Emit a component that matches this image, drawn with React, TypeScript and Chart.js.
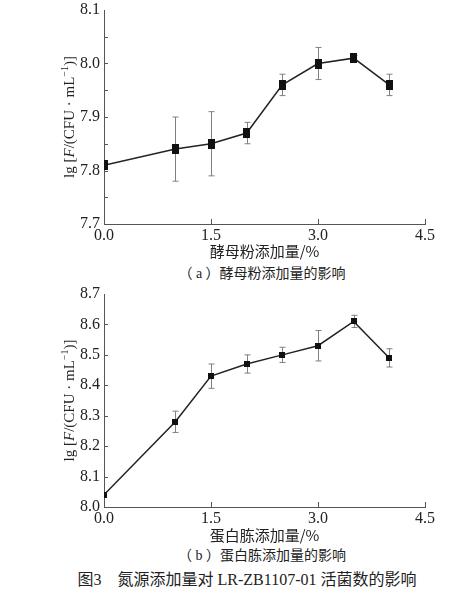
import { useEffect, useRef } from "react"
import { Chart, registerables } from "chart.js"

Chart.register(...registerables)

// amount added (%)
const doses = [0, 1, 1.5, 2, 2.5, 3, 3.5, 4]

// (a) yeast powder
const yeastCounts = [7.81, 7.84, 7.85, 7.87, 7.96, 8.0, 8.01, 7.96]
const yeastErrors = [0, 0.06, 0.06, 0.02, 0.02, 0.03, 0.005, 0.02]

// (b) peptone
const peptoneCounts = [8.04, 8.28, 8.43, 8.47, 8.5, 8.53, 8.61, 8.49]
const peptoneErrors = [0, 0.035, 0.04, 0.03, 0.025, 0.05, 0.02, 0.03]

const xTickValues = [0, 1.5, 3.0, 4.5]

const SERIF = "'Liberation Serif', 'Times New Roman', serif"
const CJK = "'Noto Sans CJK SC', 'Noto Sans CJK JP', sans-serif"
const TEXT = "#222"
const AXIS = "#555"
const PAD_TOP = 16

interface PanelProps {
  top: number
  height: number
  axisHeight: number
  ys: number[]
  errs: number[]
  yMin: number
  yMax: number
  yMinorStep: number
  xTitle: string
  markerW: number
  markerH: number
}

function makeMarker(w: number, h: number) {
  const c = document.createElement("canvas")
  c.width = w
  c.height = h
  const g = c.getContext("2d")
  if (g) {
    g.fillStyle = "#111"
    g.fillRect(0, 0, w, h)
  }
  return c
}

function Panel({ top, height, axisHeight, ys, errs, yMin, yMax, yMinorStep, xTitle, markerW, markerH }: PanelProps) {
  const chartRef = useRef<HTMLCanvasElement>(null)
  const chartInstance = useRef<Chart | null>(null)

  useEffect(() => {
    if (!chartRef.current) return
    if (chartInstance.current) chartInstance.current.destroy()
    const ctx = chartRef.current.getContext("2d")
    if (!ctx) return

    // grey error bars behind the markers
    const errorBars = {
      id: "errorBars",
      beforeDatasetsDraw(chart: Chart) {
        const c = chart.ctx
        const xs = chart.scales.x
        const yS = chart.scales.y
        c.save()
        c.strokeStyle = "#808080"
        c.lineWidth = 1
        doses.forEach((d, i) => {
          const e = errs[i]
          if (!e) return
          const px = Math.round(xs.getPixelForValue(d)) + 0.5
          const y1 = yS.getPixelForValue(ys[i] + e)
          const y2 = yS.getPixelForValue(ys[i] - e)
          c.beginPath()
          c.moveTo(px, y1)
          c.lineTo(px, y2)
          c.moveTo(px - 3, y1)
          c.lineTo(px + 3, y1)
          c.moveTo(px - 3, y2)
          c.lineTo(px + 3, y2)
          c.stroke()
        })
        c.restore()
      },
    }

    // inward tick marks + rotated y title with italic F and superscript
    const axisDecor = {
      id: "axisDecor",
      afterDraw(chart: Chart) {
        const c = chart.ctx
        const area = chart.chartArea
        const xs = chart.scales.x
        const yS = chart.scales.y
        c.save()
        c.strokeStyle = AXIS
        c.lineWidth = 1
        c.beginPath()
        const n = Math.round((yMax - yMin) / yMinorStep)
        for (let i = 1; i < n; i++) {
          const py = Math.round(yS.getPixelForValue(yMin + i * yMinorStep)) + 0.5
          c.moveTo(area.left, py)
          c.lineTo(area.left + 4, py)
        }
        xTickValues.slice(1).forEach((v) => {
          const px = Math.round(xs.getPixelForValue(v)) + 0.5
          c.moveTo(px, area.bottom)
          c.lineTo(px, area.bottom - 5)
        })
        c.stroke()

        const base = `15px ${SERIF}`
        const segs = [
          { t: "lg [", f: base, dy: 0 },
          { t: "F", f: `italic 15px ${SERIF}`, dy: 0 },
          { t: "/(CFU · mL", f: base, dy: 0 },
          { t: "−1", f: `10px ${SERIF}`, dy: -5 },
          { t: ")]", f: base, dy: 0 },
        ]
        let total = 0
        const widths = segs.map((s) => {
          c.font = s.f
          const w = c.measureText(s.t).width
          total += w
          return w
        })
        c.translate(70, (area.top + area.bottom) / 2)
        c.rotate(-Math.PI / 2)
        c.fillStyle = TEXT
        c.textBaseline = "middle"
        let x = -total / 2
        segs.forEach((s, i) => {
          c.font = s.f
          c.fillText(s.t, x, s.dy)
          x += widths[i]
        })
        c.restore()
      },
    }

    // clip the marker sitting on the y axis, as in the original
    const clipLeft = {
      id: "clipLeft",
      beforeDatasetsDraw(chart: Chart) {
        const a = chart.chartArea
        chart.ctx.save()
        chart.ctx.beginPath()
        chart.ctx.rect(a.left, 0, chart.width - a.left, chart.height)
        chart.ctx.clip()
      },
      afterDatasetsDraw(chart: Chart) {
        chart.ctx.restore()
      },
    }

    const chart = new Chart(ctx, {
      type: "line",
      data: {
        datasets: [
          {
            data: doses.map((d, i) => ({ x: d, y: ys[i] })),
            borderColor: "#222",
            borderWidth: 1.5,
            tension: 0,
            pointStyle: makeMarker(markerW, markerH),
            pointRadius: 5,
            clip: false,
          },
        ],
      },
      options: {
        animation: false,
        responsive: false,
        maintainAspectRatio: false,
        layout: { padding: { left: 0, top: PAD_TOP, right: 39, bottom: 0 } },
        plugins: { legend: { display: false }, tooltip: { enabled: false } },
        scales: {
          x: {
            type: "linear",
            min: 0,
            max: 4.5,
            afterBuildTicks: (scale) => {
              scale.ticks = xTickValues.map((v) => ({ value: v }))
            },
            afterFit: (scale) => {
              scale.height = axisHeight
            },
            grid: { display: false, tickLength: 0 },
            border: { display: true, color: AXIS, width: 1 },
            ticks: {
              padding: 2,
              color: TEXT,
              font: { family: SERIF, size: 16 },
              callback: (v) => Number(v).toFixed(1),
            },
            title: {
              display: true,
              text: xTitle,
              color: TEXT,
              padding: { top: 0, bottom: 2 },
              font: { family: CJK, size: 15 },
            },
          },
          y: {
            type: "linear",
            min: yMin,
            max: yMax,
            afterFit: (scale) => {
              scale.width = 104
            },
            grid: { display: false, tickLength: 0 },
            border: { display: true, color: AXIS, width: 1 },
            ticks: {
              stepSize: 0.1,
              padding: 4,
              color: TEXT,
              font: { family: SERIF, size: 16 },
              callback: (v) => Number(v).toFixed(1),
            },
          },
        },
      },
      plugins: [clipLeft, errorBars, axisDecor],
    })
    chartInstance.current = chart

    // redraw once the fonts are surely in
    if (document.fonts) {
      Promise.all([
        document.fonts.load(`16px "Liberation Serif"`),
        document.fonts.load(`italic 15px "Liberation Serif"`),
        document.fonts.load(`15px "Noto Sans CJK SC"`, "酵母"),
      ]).then(() => {
        if (chartInstance.current === chart) chart.update()
      })
    }

    return () => {
      chart.destroy()
      if (chartInstance.current === chart) chartInstance.current = null
    }
  }, [ys, errs, yMin, yMax])

  return (
    <div style={{ position: "absolute", left: 0, top, width: 464, height }}>
      <canvas ref={chartRef} width={464} height={height} style={{ width: 464, height }} />
    </div>
  )
}

const captionStyle = {
  position: "absolute" as const,
  left: 0,
  width: 464,
  textAlign: "center" as const,
  color: TEXT,
  fontFamily: `${SERIF}, ${CJK}`,
  lineHeight: "20px",
  whiteSpace: "nowrap" as const,
}

export default function App() {
  return (
    <div style={{ position: "absolute", left: 0, top: 0, width: 464, height: 596, background: "#fff", overflow: "hidden" }}>
      <Panel
        top={10 - PAD_TOP}
        height={268}
        axisHeight={38}
        ys={yeastCounts}
        errs={yeastErrors}
        yMin={7.7}
        yMax={8.1}
        yMinorStep={0.05}
        xTitle="酵母粉添加量/%"
        markerW={7}
        markerH={10}
      />
      <div style={{ ...captionStyle, top: 264, fontSize: 14, left: 30 }}>（ a ）酵母粉添加量的影响</div>
      <Panel
        top={294 - PAD_TOP}
        height={268}
        axisHeight={39}
        ys={peptoneCounts}
        errs={peptoneErrors}
        yMin={8.0}
        yMax={8.7}
        yMinorStep={0.1}
        xTitle="蛋白胨添加量/%"
        markerW={6}
        markerH={6}
      />
      <div style={{ ...captionStyle, top: 546, fontSize: 14, left: 30 }}>（ b ）蛋白胨添加量的影响</div>
      <div style={{ ...captionStyle, top: 570, fontSize: 16, left: 15 }}>图3　氮源添加量对 LR-ZB1107-01 活菌数的影响</div>
    </div>
  )
}
